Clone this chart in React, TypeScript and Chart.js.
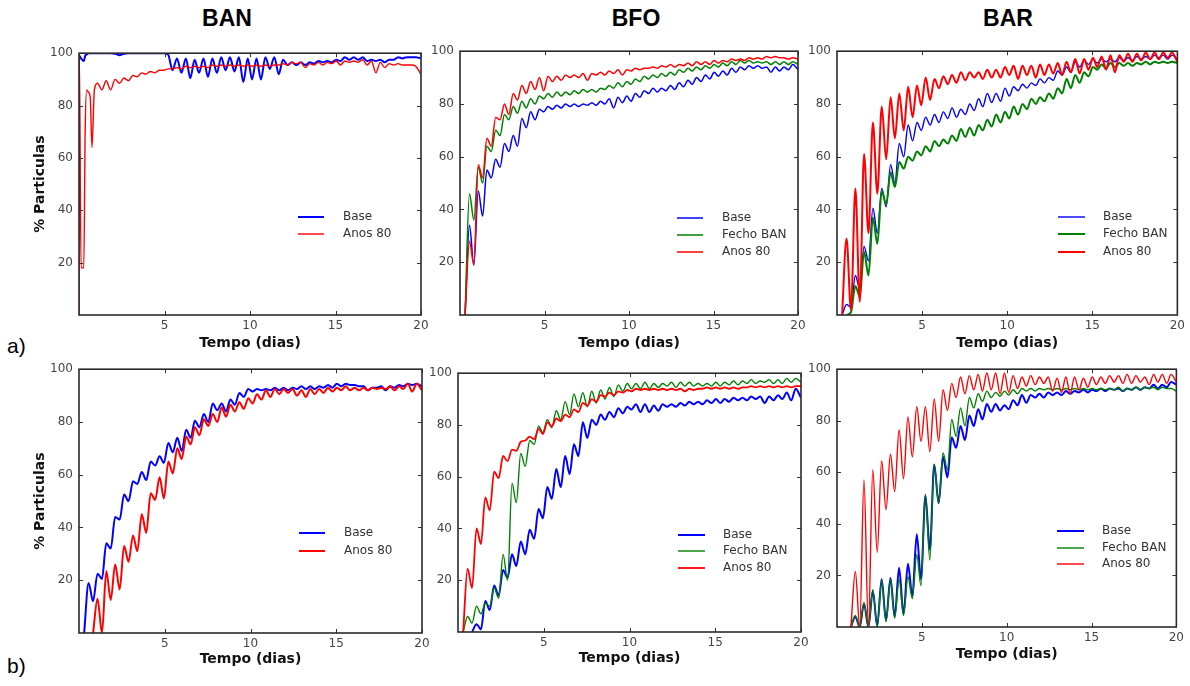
import React, { useEffect, useRef } from "react";
import { Chart, registerables } from "chart.js";

Chart.register(...registerables);

// ---------- shared axes / labels ----------
const TIME = [
  0, 0.3, 0.56, 0.82,
  1.08, 1.34, 1.59, 1.85, 2.11, 2.37, 2.63, 2.89, 3.15, 3.40,
  3.66, 3.92, 4.18, 4.44, 4.70, 4.95, 5.21, 5.47, 5.73, 5.99,
  6.25, 6.51, 6.76, 7.02, 7.28, 7.54, 7.80, 8.06, 8.32, 8.57,
  8.83, 9.09, 9.35, 9.61, 9.87, 10.12, 10.38, 10.64, 10.90, 11.16,
  11.42, 11.68, 11.93, 12.19, 12.45, 12.71, 12.97, 13.23, 13.49, 13.74,
  14.00, 14.26, 14.52, 14.78, 15.04, 15.29, 15.55, 15.81, 16.07, 16.33,
  16.59, 16.85, 17.10, 17.36, 17.62, 17.88, 18.14, 18.40, 18.66, 18.91,
  19.17, 19.43, 19.69, 20,
];
const A1_EARLY_TIME = [0, 0.02, 0.12, 0.28, 0.36, 0.45, 0.56, 0.66, 0.76, 0.9];
const A1_TIME = [...A1_EARLY_TIME, ...TIME.slice(4)];

const X_TICKS = [5, 10, 15, 20];
const Y_TICKS = [20, 40, 60, 80, 100];
const COLUMN_TITLES = ["BAN", "BFO", "BAR"];
const ROW_LABELS = ["a)", "b)"];
const X_TITLE = "Tempo (dias)";
const Y_TITLE = "% Particulas";
const NAME_BASE = "Base";
const NAME_FECHO = "Fecho BAN";
const NAME_ANOS = "Anos 80";

// ---------- a) BAN ----------
const A1_BASE = [
  99, 99, 98, 97, 99, 99.5, 100, 100, 100, 100,
  100, 100, 100, 100, 99.8, 99.2, 99.8, 100, 100, 100,
  100, 100, 100, 100, 100, 100, 99.5, 93.5, 98, 92.5,
  98, 90.5, 97.5, 92.5, 98, 91, 98, 92.5, 98.5, 93.5,
  98.5, 93, 98.5, 89, 98, 90, 98, 90, 98.5, 94,
  98.5, 92, 97.5, 95.5, 96.5, 95.5, 96.5, 95.5, 96.5, 96,
  97, 96.5, 97, 96.5, 97.5, 97, 98.5, 97.5, 98.5, 97.5,
  98.5, 97, 97.5, 97, 97.5, 96.5, 97.5, 97.5, 98.5, 98,
  98.5, 98.5, 98.5, 98,
];
const A1_ANOS = [
  0, 100, 18, 18, 70, 86, 85, 83, 64, 86,
  88.5, 86, 89.5, 86, 90, 88.5, 90.5, 89.5, 91.5, 91,
  92.5, 92, 93, 92.5, 93.5, 93.5, 94, 94, 94.5, 94,
  95, 94.5, 95, 94.5, 95, 94.5, 95.5, 95, 95.5, 95,
  95.5, 95, 95.5, 95, 95.5, 95, 95.5, 95, 95.5, 95,
  95.5, 95.5, 96, 95.5, 96.5, 96, 96.5, 94.5, 96, 95.5,
  96.5, 95.5, 96.5, 96, 97, 95.5, 97, 96.5, 97, 96.5,
  97.5, 95.5, 97, 92.5, 96.5, 94.5, 96, 95.5, 96, 95.5,
  95.5, 95.5, 95, 92,
];

// ---------- a) BFO ----------
const A2_BASE = [
  null, 0, 34, 19,
  47, 37.5, 55, 52, 59, 56, 65, 62, 68, 64,
  74.5, 71, 77, 74, 78, 77, 79, 78, 79.5, 78.5,
  80, 79, 80, 79, 80, 79.5, 80.5, 79.5, 81, 80,
  82, 78.5, 82.5, 80.5, 83, 81, 84, 82.5, 85, 84,
  86, 84.5, 86, 85, 87, 85.5, 88, 86.5, 89, 87.5,
  90, 88.5, 91, 89.5, 92, 90.5, 92.5, 91, 93.5, 92,
  94, 93, 94.5, 93.5, 94.5, 93.5, 94, 92, 94, 92.5,
  94, 93, 95, 93,
];
const A2_FECHO = [
  null, 0, 46, 36,
  56, 50, 64, 62, 70, 68, 76, 74, 79, 76.5,
  81, 78.5, 82, 80, 83, 82, 84, 82.5, 84.5, 83,
  84.5, 83.5, 85, 84, 85.5, 84.5, 85.5, 84.5, 86, 85.5,
  87, 86, 88, 86.5, 88.5, 87.5, 89.5, 88.5, 90.5, 89.5,
  91, 90, 91.5, 90.5, 92, 91, 93, 92, 93.5, 92.5,
  94, 93, 94.5, 93.5, 95, 94, 95.5, 94.5, 96, 95,
  96.5, 95.5, 96.5, 95.5, 96, 95.5, 96, 95, 96, 95,
  96, 95, 96, 95,
];
const A2_ANOS = [
  null, 0, 28, 19,
  57, 52, 67, 64, 75, 74, 80, 76, 84, 81.5,
  87, 84, 88.5, 85.5, 90, 85, 90.5, 88.5, 90.5, 89,
  91, 90, 91, 90, 91.5, 89, 91.5, 91, 92, 91,
  92.5, 91.5, 93, 91, 93, 92.5, 93.5, 93, 93.5, 93.5,
  94, 93.5, 94.5, 94, 95, 94, 95, 94.5, 95.5, 94.5,
  96, 95, 96, 95, 96.5, 95.5, 96.5, 96, 97, 96.5,
  97, 96.5, 97.5, 97, 97.5, 97, 98, 97.5, 98, 97.5,
  97.5, 97, 97.5, 97,
];

// ---------- a) BAR ----------
const A3_BASE = [
  null, 0, 4, 3,
  15, 10, 26, 20.5, 40.5, 31, 48, 41, 57, 50,
  65, 60, 72, 66, 73, 70, 75, 72, 76, 73,
  77, 74.5, 78.5, 75, 78, 76, 80, 77.5, 82, 79,
  84, 80.5, 84, 81, 86, 83, 86.5, 85, 87.5, 86,
  88, 87, 89.5, 88, 90, 89, 92.5, 91, 94, 92,
  96, 94, 96.5, 95, 97, 95.5, 97, 96, 97, 96,
  97.5, 96.5, 97.5, 96.5, 98, 97, 98, 97, 98.5, 97.5,
  98.5, 97, 98.5, 97,
];
const A3_FECHO = [
  null, null, 0, 1,
  11, 7, 24, 15, 37, 27, 47, 42, 54, 48.5,
  58, 55.5, 60, 58.5, 62, 60.5, 64, 62, 66, 64,
  66.5, 65, 68, 66, 70.5, 67.5, 71, 68, 72, 70,
  74, 71.5, 76, 73, 77, 74.5, 79, 76, 80, 78,
  82, 80, 82.5, 81, 84, 82, 86, 84, 89.5, 86,
  91, 88, 92, 90.5, 94, 93, 95, 93.5, 95.5, 94,
  95.5, 94.5, 95.5, 94.5, 95.5, 95, 96, 95, 96, 95.5,
  96, 95.5, 96, 95.5,
];
const A3_ANOS = [
  null, 0, 29, 2,
  48, 5, 61, 31, 73, 46, 79, 59, 82.5, 67,
  84, 70, 86.5, 75, 87, 79.5, 90, 81.5, 89.5, 86,
  90.5, 87.5, 91, 88, 92, 89, 92, 90, 92, 89.5,
  93, 90, 93, 90, 94, 91, 94.5, 89.5, 94.5, 91,
  94.5, 90, 95, 91, 95, 91.5, 95.5, 91, 96, 92,
  97, 91.5, 97, 93, 97.5, 94, 98, 93, 98.5, 92,
  98.5, 96, 99, 96, 99, 96.5, 99.5, 97, 99.5, 97,
  99.5, 97.5, 99.5, 96,
];

// ---------- b) BAN ----------
const B1_BASE = [
  null, 0, 19, 12,
  22.5, 20.5, 34, 32, 44, 43, 52.5, 50, 57.5, 56.5,
  61, 58, 65, 63.5, 67, 64.5, 72, 68.5, 74, 69,
  77, 74, 80.5, 78, 83, 80, 87, 84.5, 87, 84,
  88.5, 86.5, 91, 89.5, 92.5, 91.5, 92.5, 92, 92.5, 92,
  93, 92, 93, 92, 93, 92.5, 93.5, 92.5, 93.5, 92.5,
  93.5, 93, 94, 93, 94.5, 93.5, 94.5, 94, 94, 93.5,
  93.5, 92, 93, 93, 93.5, 92, 93.5, 93, 94, 93.5,
  94.5, 94, 94.5, 93.5,
];
const B1_ANOS = [
  null, null, null, 0,
  13, 0, 23.5, 12.5, 26, 16.5, 33, 27, 37, 31,
  45, 38, 53, 50.5, 59, 51, 65, 60.5, 70, 66,
  74.5, 71.5, 78, 75, 81, 78.5, 83, 80, 85.5, 82,
  86.5, 84, 87.5, 85, 89, 87, 90.5, 88.5, 92, 89.5,
  92.5, 90.5, 92.5, 91, 92.5, 90, 92, 89.5, 92.5, 90.5,
  92.5, 91, 93, 91.5, 93, 92, 93.5, 92, 93, 92,
  93, 92, 93, 92.5, 93, 92.5, 93.5, 92, 93.5, 92.5,
  94.5, 91.5, 94.5, 92,
];

// ---------- b) BFO ----------
const B2_BASE = [
  null, null, null, 0,
  3, 1, 12, 8.5, 18, 14, 24, 21, 30, 25.5,
  35, 30, 39.5, 36, 47.5, 44, 56, 51.5, 63, 56,
  68, 61, 72.5, 68, 81, 75, 82, 80, 84, 82,
  85, 83, 86.5, 84.5, 87, 86, 88, 85, 88, 85,
  87.5, 85.5, 88, 87, 88, 87, 88.5, 87.5, 89, 88,
  89, 88, 89.5, 88.5, 90, 88.5, 90, 89, 90.5, 89.5,
  90.5, 89.5, 91, 90, 91, 88.5, 91, 89.5, 91.5, 90,
  92.5, 89.5, 94, 90.5,
];
const B2_FECHO = [
  null, 0, 6, 3.5,
  10, 7, 11, 10, 17, 13, 30, 20, 57.5, 50,
  69, 64, 74, 72.5, 79.5, 77, 82, 79, 85.5, 82,
  89, 84, 92, 87, 92.5, 87, 93, 88.5, 93.5, 90,
  94.5, 91, 95.5, 93, 96, 94, 96, 94, 96.5, 94,
  96, 94.5, 96, 95, 96.5, 94.5, 96.5, 95, 96.5, 95,
  96, 95, 96, 95, 96.5, 95, 96.5, 95.5, 97, 95.5,
  97, 96, 97.5, 96, 97, 96.5, 97.5, 96, 97.5, 96,
  98, 96.5, 98, 96.5,
];
const B2_ANOS = [
  null, 0, 24.5, 17,
  40, 34, 52, 47, 62, 59.5, 68, 66, 70.5, 70,
  73.5, 74, 75.5, 74.5, 78.5, 76.5, 81, 79.5, 82.5, 81.5,
  84, 83, 86, 85, 88.5, 87.5, 90, 89, 91.5, 91,
  92.5, 91.5, 93, 92.5, 93.5, 93, 94, 93.5, 94, 93.5,
  94, 93.5, 94, 93.5, 94, 93.5, 94, 93, 94, 93.5,
  94, 94, 94.5, 94, 94.5, 94, 94.5, 94, 94.5, 94,
  94.5, 94.5, 95, 94.5, 95, 94.5, 95, 94.5, 95, 94.5,
  95, 94.5, 95, 95,
];

// ---------- b) BAR ----------
const B3_BASE = [
  null, null, null, 0,
  4, 0, 9, 0, 14, 0.5, 18.5, 2.5, 19, 4,
  23, 5, 24.5, 12, 36, 18.5, 51, 30, 63, 48,
  66, 58, 73.5, 69.5, 78, 72.5, 82, 78, 84.5, 80.5,
  86.5, 83.5, 86.5, 84, 86, 84.5, 88, 86, 90, 87,
  90, 89, 90.5, 89, 91, 90, 91, 90, 91.5, 90.5,
  91.5, 91, 92, 91, 92, 91.5, 92.5, 91.5, 92.5, 92,
  92.5, 91.5, 92.5, 92, 93, 92, 93, 92.5, 94, 92.5,
  94, 93, 95, 94,
];
const B3_FECHO = [
  null, null, null, 0,
  4.5, 0, 9.5, 0, 14.5, 0, 18, 2, 18.5, 3.5,
  18.5, 4.5, 19.5, 11, 28, 16, 51.5, 26, 63, 48,
  67.5, 61, 80.5, 74, 85, 78, 89, 85, 90.5, 87.5,
  91.5, 89, 91, 89.5, 91.5, 90, 92, 90.5, 92.5, 91.5,
  92.5, 91.5, 92.5, 92, 92.5, 92, 92.5, 92, 92.5, 92,
  92.5, 92, 92.5, 92, 92.5, 92, 92.5, 92, 92.5, 92,
  93, 91.5, 92.5, 92, 93, 92, 93, 92.5, 93, 92,
  93, 92.5, 92.5, 91.5,
];
const B3_ANOS = [
  null, null, null, 0,
  21.5, 0, 57, 0, 61, 29, 64.5, 45.5, 67, 52.5,
  76.5, 57.5, 81.5, 66, 85.5, 72, 85.5, 68, 88.5, 72,
  92, 84, 94.5, 89, 97, 90.5, 97.5, 92, 98, 91.5,
  98.5, 92, 98.5, 90.5, 98.5, 91, 97.5, 92.5, 97, 93.5,
  97.5, 94, 97, 94.5, 97, 91.5, 96.5, 91, 97, 90.5,
  97, 92, 96.5, 93, 97, 94, 97, 94.5, 97.5, 95,
  97.5, 94.5, 98, 94.5, 97.5, 95, 97, 94, 98, 95,
  98, 94.5, 98, 95,
];

// ---------- styling ----------
const BLUE = "#0000ff";
const GREEN = "#008000";
const RED = "#ff0000";
const FONT = "'DejaVu Sans', sans-serif";

type Series = { label: string; data: (number | null)[]; color: string; width: number };
type Box = { l: number; t: number; r: number; b: number };
type LegendPos = { x0: number; x1: number; tx: number; ys: number[] };
type PanelDef = {
  key: string;
  time: number[];
  series: Series[];
  box: Box;
  yTitle: boolean;
  xTitleY: number;
  legend: LegendPos;
};

const PANELS: PanelDef[] = [
  {
    key: "a1", time: A1_TIME, box: { l: 79, t: 52, r: 421, b: 315 }, yTitle: true, xTitleY: 344,
    legend: { x0: 298, x1: 324, tx: 343, ys: [217, 234] },
    series: [
      { label: NAME_BASE, data: A1_BASE, color: BLUE, width: 2 },
      { label: NAME_ANOS, data: A1_ANOS, color: RED, width: 1.4 },
    ],
  },
  {
    key: "a2", time: TIME, box: { l: 460, t: 50, r: 798, b: 315 }, yTitle: false, xTitleY: 344,
    legend: { x0: 677, x1: 703, tx: 722, ys: [218, 235, 252] },
    series: [
      { label: NAME_BASE, data: A2_BASE, color: BLUE, width: 1.5 },
      { label: NAME_FECHO, data: A2_FECHO, color: GREEN, width: 1.5 },
      { label: NAME_ANOS, data: A2_ANOS, color: RED, width: 1.5 },
    ],
  },
  {
    key: "a3", time: TIME, box: { l: 837, t: 50, r: 1180, b: 315 }, yTitle: false, xTitleY: 344,
    legend: { x0: 1058, x1: 1085, tx: 1103, ys: [217, 234, 252] },
    series: [
      { label: NAME_BASE, data: A3_BASE, color: BLUE, width: 1.4 },
      { label: NAME_FECHO, data: A3_FECHO, color: GREEN, width: 2 },
      { label: NAME_ANOS, data: A3_ANOS, color: RED, width: 2 },
    ],
  },
  {
    key: "b1", time: TIME, box: { l: 79, t: 368, r: 422, b: 633 }, yTitle: true, xTitleY: 660,
    legend: { x0: 299, x1: 325, tx: 344, ys: [533, 551] },
    series: [
      { label: NAME_BASE, data: B1_BASE, color: BLUE, width: 2 },
      { label: NAME_ANOS, data: B1_ANOS, color: RED, width: 2 },
    ],
  },
  {
    key: "b2", time: TIME, box: { l: 458, t: 372, r: 801, b: 632 }, yTitle: false, xTitleY: 659,
    legend: { x0: 678, x1: 705, tx: 723, ys: [535, 551, 568] },
    series: [
      { label: NAME_BASE, data: B2_BASE, color: BLUE, width: 2 },
      { label: NAME_FECHO, data: B2_FECHO, color: GREEN, width: 1.4 },
      { label: NAME_ANOS, data: B2_ANOS, color: RED, width: 1.8 },
    ],
  },
  {
    key: "b3", time: TIME, box: { l: 837, t: 368, r: 1179, b: 627 }, yTitle: false, xTitleY: 655,
    legend: { x0: 1057, x1: 1084, tx: 1102, ys: [531, 548, 564] },
    series: [
      { label: NAME_BASE, data: B3_BASE, color: BLUE, width: 2 },
      { label: NAME_FECHO, data: B3_FECHO, color: GREEN, width: 1.4 },
      { label: NAME_ANOS, data: B3_ANOS, color: RED, width: 1.4 },
    ],
  },
];

const TITLE_CENTERS = [227, 636, 1008];
const ROW_LABEL_TOPS = [334.5, 654.5];

// frame + inward ticks on all four sides (matplotlib classic look)
const framePlugin = {
  id: "frameTicks",
  afterDatasetsDraw(chart: any) {
    const { ctx, chartArea: a, scales } = chart;
    const x = scales.x, y = scales.y;
    ctx.save();
    ctx.strokeStyle = "#333";
    ctx.lineWidth = 1;
    ctx.beginPath();
    X_TICKS.forEach((v) => {
      const px = Math.round(x.getPixelForValue(v)) + 0.5;
      ctx.moveTo(px, a.bottom); ctx.lineTo(px, a.bottom - 4);
      ctx.moveTo(px, a.top); ctx.lineTo(px, a.top + 4);
    });
    Y_TICKS.forEach((v) => {
      const py = Math.round(y.getPixelForValue(v)) + 0.5;
      ctx.moveTo(a.left, py); ctx.lineTo(a.left + 4, py);
      ctx.moveTo(a.right, py); ctx.lineTo(a.right - 4, py);
    });
    ctx.stroke();
    ctx.lineWidth = 1.6;
    ctx.strokeStyle = "#2a2a2a";
    ctx.strokeRect(a.left, a.top, a.right - a.left, a.bottom - a.top);
    ctx.restore();
  },
};

// legend placed inside the axes, without frame
const insetLegendPlugin = {
  id: "insetLegend",
  afterDraw(chart: any, _args: any, opts: any) {
    const { ctx } = chart;
    ctx.save();
    chart.data.datasets.forEach((ds: any, i: number) => {
      const yy = opts.ys[i];
      ctx.strokeStyle = ds.borderColor;
      ctx.lineWidth = ds.borderWidth;
      ctx.beginPath();
      ctx.moveTo(opts.x0, yy);
      ctx.lineTo(opts.x1, yy);
      ctx.stroke();
      ctx.fillStyle = "#333";
      ctx.font = `12px ${FONT}`;
      ctx.textBaseline = "middle";
      ctx.textAlign = "left";
      ctx.fillText(ds.label, opts.tx, yy);
    });
    ctx.restore();
  },
};

function PanelChart({ p }: { p: PanelDef }) {
  const ref = useRef<HTMLCanvasElement | null>(null);
  const padL = p.yTitle ? p.box.l - 32 : 40;
  const padT = 12;
  const padR = p.box.r > 1170 ? 9 : 14;
  const padB = Math.round(p.xTitleY + 8.4 - p.box.b);
  const left = p.box.l - padL;
  const top = p.box.t - padT;
  const w = p.box.r - p.box.l + padL + padR;
  const h = p.box.b - p.box.t + padT + padB;

  useEffect(() => {
    const canvas = ref.current;
    if (!canvas) return;
    const n = p.series.length;
    const chart = new Chart(canvas, {
      type: "line",
      data: {
        datasets: p.series.map((s, i) => ({
          label: s.label,
          data: p.time.map((t, k) => ({ x: t, y: s.data[k] })),
          borderColor: s.color,
          backgroundColor: s.color,
          borderWidth: s.width,
          pointRadius: 0,
          pointHoverRadius: 0,
          fill: false,
          cubicInterpolationMode: "monotone",
          spanGaps: false,
          clip: 0,
          order: n - i,
        })),
      },
      options: {
        animation: false,
        responsive: false,
        maintainAspectRatio: false,
        events: [],
        layout: { padding: { left: 0, top: padT, right: padR, bottom: 0 } },
        scales: {
          x: {
            type: "linear",
            min: 0,
            max: 20,
            grid: { display: false, drawTicks: false },
            border: { display: false },
            afterBuildTicks: (axis: any) => {
              axis.ticks = X_TICKS.map((v) => ({ value: v }));
            },
            afterFit: (axis: any) => {
              axis.height = padB;
            },
            ticks: {
              autoSkip: false,
              maxRotation: 0,
              padding: 4,
              color: "#444",
              font: { family: FONT, size: 12 },
            },
            title: {
              display: true,
              text: X_TITLE,
              color: "#111",
              padding: 0,
              font: { family: FONT, size: 14, weight: "bold" },
            },
          },
          y: {
            type: "linear",
            min: 0,
            max: 100,
            grid: { display: false, drawTicks: false },
            border: { display: false },
            afterBuildTicks: (axis: any) => {
              axis.ticks = Y_TICKS.map((v) => ({ value: v }));
            },
            afterFit: (axis: any) => {
              axis.width = padL;
            },
            ticks: {
              autoSkip: false,
              padding: 6,
              color: "#444",
              font: { family: FONT, size: 12 },
            },
            title: {
              display: p.yTitle,
              text: Y_TITLE,
              color: "#111",
              padding: 0,
              font: { family: FONT, size: 14, weight: "bold" },
            },
          },
        },
        plugins: {
          legend: { display: false },
          tooltip: { enabled: false },
          insetLegend: {
            x0: p.legend.x0 - left,
            x1: p.legend.x1 - left,
            tx: p.legend.tx - left,
            ys: p.legend.ys.map((v) => v - top),
          },
        } as any,
      },
      plugins: [framePlugin, insetLegendPlugin],
    } as any);
    return () => chart.destroy();
  }, []);

  return (
    <canvas
      ref={ref}
      width={w}
      height={h}
      style={{ position: "absolute", left, top, width: w, height: h }}
    />
  );
}

export default function App() {
  return (
    <div
      style={{
        position: "absolute",
        left: 0,
        top: 0,
        width: 1190,
        height: 686,
        overflow: "hidden",
        background: "#fff",
      }}
    >
      {COLUMN_TITLES.map((t, i) => (
        <div
          key={t}
          style={{
            position: "absolute",
            left: TITLE_CENTERS[i] - 100,
            width: 200,
            top: 7,
            textAlign: "center",
            fontFamily: "'Liberation Sans', Arial, sans-serif",
            fontWeight: "bold",
            fontSize: 23,
            lineHeight: "23px",
            color: "#000",
          }}
        >
          {t}
        </div>
      ))}
      {ROW_LABELS.map((t, i) => (
        <div
          key={t}
          style={{
            position: "absolute",
            left: 7,
            top: ROW_LABEL_TOPS[i],
            fontFamily: "'Liberation Sans', Arial, sans-serif",
            fontSize: 21,
            lineHeight: "21px",
            color: "#000",
          }}
        >
          {t}
        </div>
      ))}
      {PANELS.map((p) => (
        <PanelChart key={p.key} p={p} />
      ))}
    </div>
  );
}
